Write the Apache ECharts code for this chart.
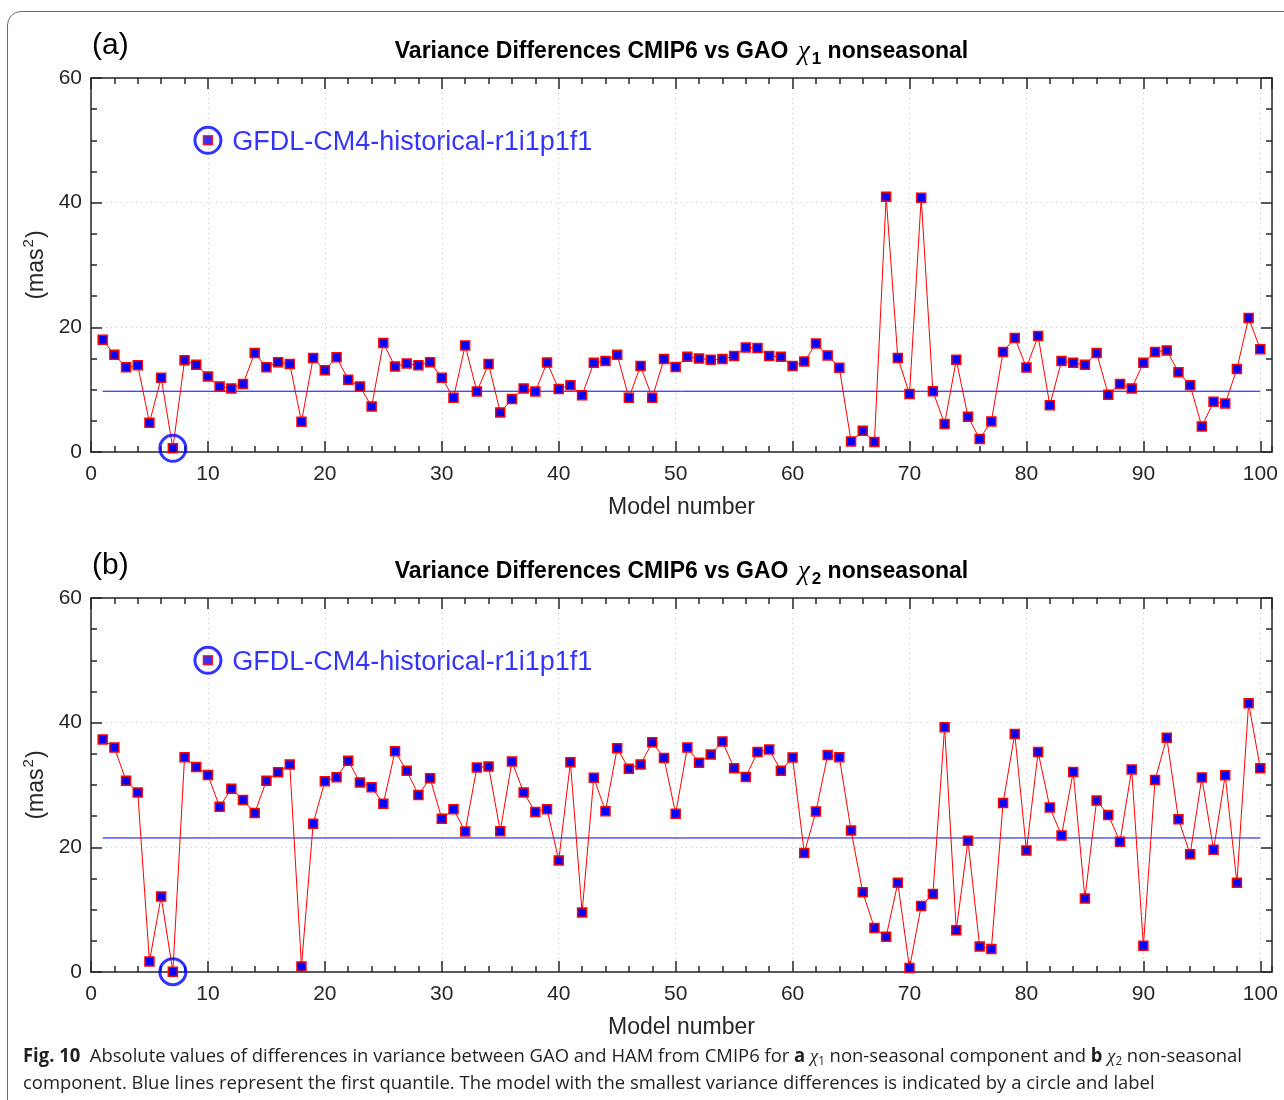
<!DOCTYPE html>
<html>
<head>
<meta charset="utf-8">
<script src="https://cdn.jsdelivr.net/npm/echarts@6/dist/echarts.min.js"></script>
<style>
  html, body { margin: 0; padding: 0; background: #fff; }
  #frame {
    position: absolute; left: 7px; top: 11px; width: 1400px; height: 1200px;
    border: 1px solid #6e6e6e; border-radius: 14px; box-sizing: border-box;
  }
  #chart { position: absolute; left: 0; top: 0; width: 1284px; height: 1100px; }
  #caption {
    position: absolute; left: 23px; top: 1042px; white-space: nowrap;
    font-family: "Open Sans", "Noto Sans", sans-serif; font-size: 19px; line-height: 26px;
    color: #231f20; transform-origin: 0 0;
  }
  #caption b { font-weight: 700; }
  #caption i { font-family: "Liberation Serif", serif; }
  #caption sub { font-size: 12px; vertical-align: -3px; line-height: 0; }
</style>
</head>
<body>
<div id="frame"></div>
<div id="chart"></div>
<div id="caption"><span id="cap1"><b>Fig. 10</b>&nbsp; Absolute values of differences in variance between GAO and HAM from CMIP6 for <b>a</b> <i>χ</i><sub>1</sub> non-seasonal component and <b>b</b> <i>χ</i><sub>2</sub> non-seasonal</span><br><span>component. Blue lines represent the first quantile. The model with the smallest variance differences is indicated by a circle and label</span></div>
<script>
// Model index on the x axis
const modelNumbers = Array.from({ length: 100 }, (_, i) => i + 1);

// |variance difference| per model, chi1 non-seasonal (mas^2)
const chi1Diff = [
  18.0, 15.6, 13.6, 13.9, 4.7, 11.9, 0.6, 14.7, 14.0, 12.1,
  10.5, 10.2, 10.9, 15.9, 13.6, 14.4, 14.1, 4.85, 15.1, 13.1,
  15.2, 11.6, 10.5, 7.3, 17.5, 13.7, 14.2, 13.9, 14.4, 11.9,
  8.7, 17.1, 9.7, 14.1, 6.35, 8.5, 10.2, 9.7, 14.35, 10.1,
  10.7, 9.1, 14.3, 14.6, 15.6, 8.7, 13.8, 8.7, 14.9, 13.65,
  15.3, 15.0, 14.8, 14.9, 15.4, 16.75, 16.7, 15.4, 15.3, 13.8,
  14.5, 17.4, 15.5, 13.5, 1.7, 3.4, 1.6, 40.96, 15.1, 9.3,
  40.8, 9.76, 4.5, 14.8, 5.65, 2.1, 4.9, 16.05, 18.3, 13.55,
  18.6, 7.5, 14.6, 14.3, 14.0, 15.9, 9.2, 10.9, 10.2, 14.3,
  16.05, 16.3, 12.8, 10.7, 4.1, 8.05, 7.8, 13.3, 21.5, 16.5
];

// |variance difference| per model, chi2 non-seasonal (mas^2)
const chi2Diff = [
  37.3, 36.0, 30.7, 28.8, 1.7, 12.1, 0.05, 34.45, 32.9, 31.6,
  26.5, 29.4, 27.6, 25.5, 30.7, 32.05, 33.3, 0.9, 23.8, 30.6,
  31.25, 33.9, 30.4, 29.65, 27.0, 35.4, 32.3, 28.4, 31.1, 24.6,
  26.1, 22.55, 32.8, 32.96, 22.6, 33.76, 28.8, 25.65, 26.1, 17.9,
  33.65, 9.55, 31.15, 25.8, 35.9, 32.6, 33.3, 36.85, 34.35, 25.4,
  36.0, 33.55, 34.9, 36.96, 32.7, 31.3, 35.3, 35.7, 32.3, 34.4,
  19.1, 25.76, 34.8, 34.45, 22.7, 12.8, 7.05, 5.65, 14.3, 0.64,
  10.6, 12.5, 39.25, 6.7, 21.07, 4.1, 3.7, 27.1, 38.2, 19.5,
  35.3, 26.4, 21.9, 32.1, 11.8, 27.5, 25.2, 20.9, 32.5, 4.2,
  30.8, 37.6, 24.5, 18.9, 31.2, 19.6, 31.55, 14.3, 43.1, 32.7
];

// First-quantile levels
const firstQuantile = [9.75, 21.5];

// Best model and where its label sits
const bestModelIndex = 7;
const bestModelName = 'GFDL-CM4-historical-r1i1p1f1';
const labelAnchor = [10, 50];

const panelLetters = ['(a)', '(b)'];
const panelSub = ['1', '2'];

const FONT = '"Liberation Sans", Arial, Helvetica, sans-serif';
const AXIS_COLOR = '#262626';
const GRID_TOP = [78, 598];
const PLOT_LEFT = 91, PLOT_W = 1181, PLOT_H = 374;

const chart = echarts.init(document.getElementById('chart'), null, { renderer: 'canvas' });

const grid = [], xAxis = [], yAxis = [], series = [], graphic = [];
const axisLineStyle = { color: AXIS_COLOR, width: 1.5 };
const dottedGrid = { show: true, lineStyle: { type: [1, 4], color: '#c8c8c8', width: 1 } };

[chi1Diff, chi2Diff].forEach((values, g) => {
  grid.push({ left: PLOT_LEFT, top: GRID_TOP[g], width: PLOT_W, height: PLOT_H, containLabel: false });

  const xBase = { type: 'value', gridIndex: g, min: 0, max: 101 };
  // bottom, major ticks + labels + dotted grid
  xAxis.push(Object.assign({}, xBase, {
    position: 'bottom', interval: 10,
    axisLine: { show: true, onZero: false, lineStyle: axisLineStyle },
    axisTick: { show: true, inside: true, length: 11, lineStyle: axisLineStyle },
    axisLabel: {
      show: true, margin: 12, fontSize: 21, color: AXIS_COLOR, fontFamily: FONT,
      showMaxLabel: false,
      formatter: v => (v % 10 === 0 ? String(v) : '')
    },
    splitLine: dottedGrid,
    name: 'Model number', nameLocation: 'middle', nameGap: 44,
    nameTextStyle: { fontSize: 23, color: AXIS_COLOR, fontFamily: FONT }
  }));
  // bottom, minor ticks
  xAxis.push(Object.assign({}, xBase, {
    position: 'bottom', interval: 2,
    axisLine: { show: false, onZero: false },
    axisTick: { show: true, inside: true, length: 6, lineStyle: axisLineStyle },
    axisLabel: { show: false }, splitLine: { show: false }
  }));
  // top box edge, major ticks
  xAxis.push(Object.assign({}, xBase, {
    position: 'top', interval: 10,
    axisLine: { show: true, onZero: false, lineStyle: axisLineStyle },
    axisTick: { show: true, inside: true, length: 11, lineStyle: axisLineStyle },
    axisLabel: { show: false }, splitLine: { show: false }
  }));
  // top box edge, minor ticks
  xAxis.push(Object.assign({}, xBase, {
    position: 'top', interval: 2,
    axisLine: { show: false, onZero: false },
    axisTick: { show: true, inside: true, length: 6, lineStyle: axisLineStyle },
    axisLabel: { show: false }, splitLine: { show: false }
  }));

  const yBase = {
    type: 'value', gridIndex: g, min: 0, max: 60, interval: 20,
    minorTick: { show: true, splitNumber: 4, length: 6, lineStyle: axisLineStyle }
  };
  yAxis.push(Object.assign({}, yBase, {
    position: 'left',
    axisLine: { show: true, onZero: false, lineStyle: axisLineStyle },
    axisTick: { show: true, inside: true, length: 11, lineStyle: axisLineStyle },
    axisLabel: { show: true, margin: 9, fontSize: 21, color: AXIS_COLOR, fontFamily: FONT },
    splitLine: dottedGrid,
    name: '(mas{sup|2})', nameLocation: 'middle', nameGap: 36, nameRotate: 90,
    nameTextStyle: {
      fontSize: 23, color: AXIS_COLOR, fontFamily: FONT,
      rich: { sup: { fontSize: 15, color: AXIS_COLOR, fontFamily: FONT, padding: [0, 1, 14, 1] } }
    }
  }));
  yAxis.push(Object.assign({}, yBase, {
    position: 'right',
    axisLine: { show: true, onZero: false, lineStyle: axisLineStyle },
    axisTick: { show: true, inside: true, length: 11, lineStyle: axisLineStyle },
    axisLabel: { show: false }, splitLine: { show: false }
  }));

  const xi = g * 4, yi = g * 2;
  const markerStyle = { color: '#0000ff', borderColor: '#ff0000', borderWidth: 1.5 };

  // first-quantile reference line
  series.push({
    type: 'line', xAxisIndex: xi, yAxisIndex: yi, silent: true, z: 2,
    symbol: 'none', lineStyle: { color: '#0000ff', width: 1 },
    data: [[modelNumbers[0], firstQuantile[g]], [modelNumbers[modelNumbers.length - 1], firstQuantile[g]]]
  });
  // model values
  series.push({
    type: 'line', xAxisIndex: xi, yAxisIndex: yi, z: 3,
    symbol: 'rect', symbolSize: 9, showAllSymbol: true,
    lineStyle: { color: '#ff0000', width: 1 },
    itemStyle: markerStyle,
    data: modelNumbers.map((m, i) => [m, values[i]])
  });
  // circles around best model and the label key
  series.push({
    type: 'scatter', xAxisIndex: xi, yAxisIndex: yi, z: 4,
    symbol: 'circle', symbolSize: 26,
    itemStyle: { color: 'rgba(0,0,0,0)', borderColor: '#0000ff', borderWidth: 3 },
    data: [[bestModelIndex, values[bestModelIndex - 1]], labelAnchor]
  });
  // key marker with model name
  series.push({
    type: 'scatter', xAxisIndex: xi, yAxisIndex: yi, z: 5,
    symbol: 'rect', symbolSize: 9, itemStyle: markerStyle,
    label: {
      show: true, position: 'right', distance: 19, offset: [0, 2],
      formatter: bestModelName, color: '#0000ff', fontSize: 27, fontFamily: FONT
    },
    data: [labelAnchor]
  });

  // panel letter
  graphic.push({
    type: 'text', left: 92, top: GRID_TOP[g] - 47,
    style: { text: panelLetters[g], font: '30px ' + FONT, fill: '#000' }
  });
  // panel title
  graphic.push({
    type: 'text', x: PLOT_LEFT + PLOT_W / 2, y: GRID_TOP[g] - 26,
    style: {
      text: 'Variance Differences CMIP6 vs GAO {chi|χ}{sub|' + panelSub[g] + '} nonseasonal',
      font: 'bold 23px ' + FONT, fill: '#000', align: 'center', verticalAlign: 'middle',
      rich: {
        chi: { fontFamily: '"Liberation Serif", serif', fontStyle: 'italic', fontWeight: 'normal', fontSize: 27, padding: [0, 2, 0, 3] },
        sub: { fontFamily: FONT, fontWeight: 'bold', fontSize: 17, padding: [14, 0, 0, 0] }
      }
    }
  });
});

chart.setOption({
  animation: false,
  backgroundColor: 'transparent',
  grid, xAxis, yAxis, series, graphic
});

// Fit the caption's first line to the figure width
const cap = document.getElementById('caption');
const w = document.getElementById('cap1').getBoundingClientRect().width;
const target = 1219;
if (w > 0) cap.style.transform = 'scaleX(' + (target / w).toFixed(4) + ')';
</script>
</body>
</html>
